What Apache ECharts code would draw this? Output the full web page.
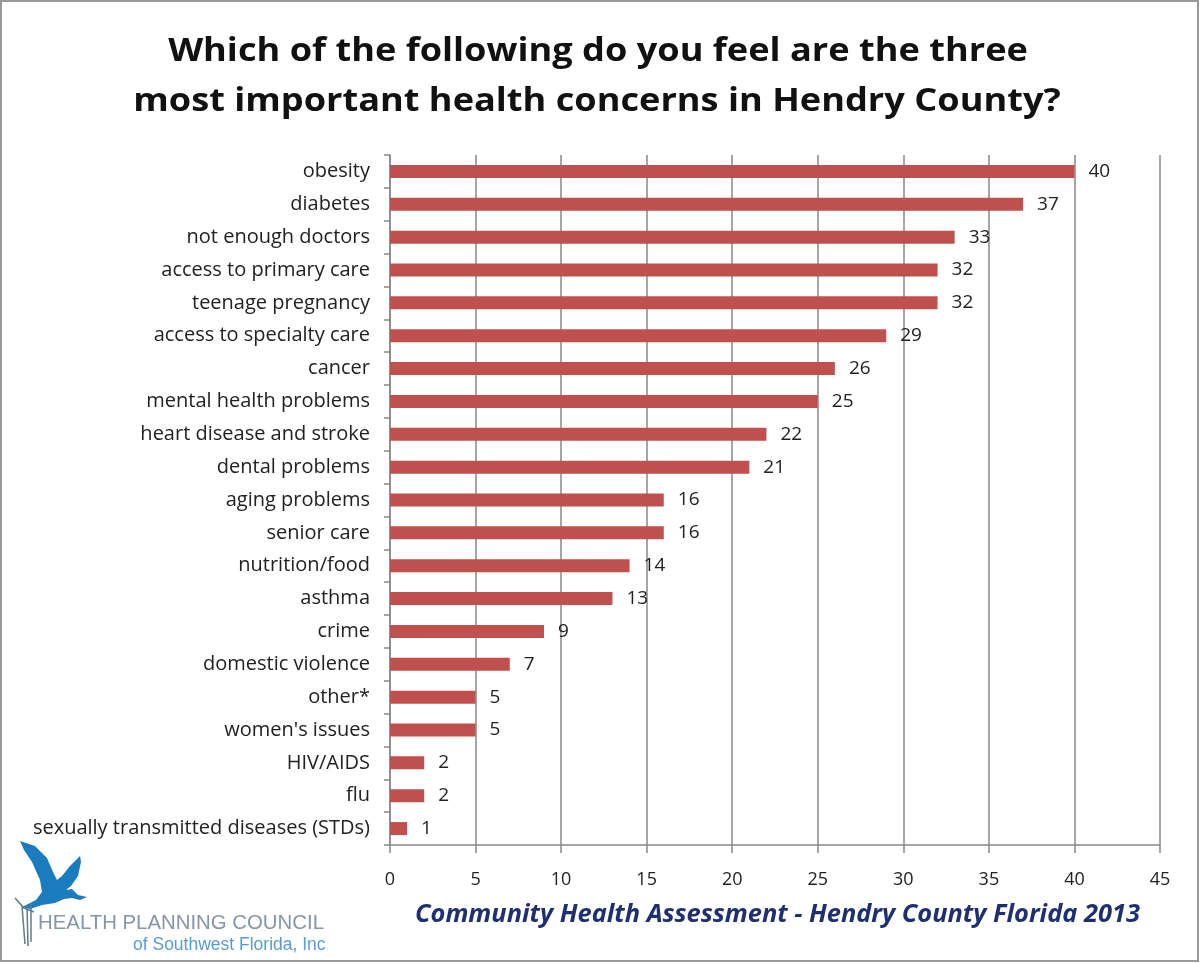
<!DOCTYPE html>
<html><head><meta charset="utf-8">
<script src="https://cdn.jsdelivr.net/npm/echarts@6/dist/echarts.min.js"></script>
<style>html,body{margin:0;padding:0;background:#fff}#c{width:1200px;height:963px}</style>
</head><body><div id="c"></div>
<script>
const categories = ["obesity","diabetes","not enough doctors","access to primary care","teenage pregnancy","access to specialty care","cancer","mental health problems","heart disease and stroke","dental problems","aging problems","senior care","nutrition/food","asthma","crime","domestic violence","other*","women's issues","HIV/AIDS","flu","sexually transmitted diseases (STDs)"];
const values = [40,37,33,32,32,29,26,25,22,21,16,16,14,13,9,7,5,5,2,2,1];
const xTicks = [0,5,10,15,20,25,30,35,40,45];
const titleLines = ["Which of the following do you feel are the three","most important health concerns in Hendry County?"];
const footer = "Community Health Assessment - Hendry County Florida 2013";
const logoLines = ["HEALTH PLANNING COUNCIL","of Southwest Florida, Inc"];

const chart = echarts.init(document.getElementById('c'));
const titleFont = 'bold 32px "Open Sans"';
chart.setOption({
  backgroundColor:'#fff',
  animation:false,
  grid:{left:390, right:40, top:155, bottom:118},
  xAxis:{type:'value', min:0, max:45, interval:5,
    axisLine:{show:true, lineStyle:{color:'#888', width:1.5}},
    axisTick:{show:true, length:8, lineStyle:{color:'#888', width:1.5}},
    axisLabel:{margin:26, fontFamily:'Open Sans', fontSize:18, color:'#222', formatter:v=>xTicks.includes(v)?String(v):''},
    splitLine:{show:true, lineStyle:{color:'#888', width:1.5}}},
  yAxis:{type:'category', data:categories, inverse:true,
    axisLine:{show:true, lineStyle:{color:'#888', width:1.5}},
    axisTick:{show:true, length:6, lineStyle:{color:'#888', width:1.5}},
    axisLabel:{margin:20, fontFamily:'Open Sans', fontSize:20, color:'#222'}},
  series:[{type:'bar', data:values, barWidth:13,
    itemStyle:{color:'#c0504d'},
    label:{show:true, position:'right', distance:14, fontFamily:'Open Sans', fontSize:19, color:'#222'}}],
  graphic:[
    {type:'rect', shape:{x:1, y:1, width:1197, height:960}, style:{fill:'none', stroke:'#999', lineWidth:2}, silent:true},
    {type:'text', x:598, y:52, scaleX:1.13, style:{text:titleLines[0], font:titleFont, fill:'#111', align:'center', verticalAlign:'middle'}},
    {type:'text', x:597, y:102, scaleX:1.13, style:{text:titleLines[1], font:titleFont, fill:'#111', align:'center', verticalAlign:'middle'}},
    {type:'text', x:415, y:915, style:{text:footer, font:'italic bold 25.4px "Open Sans"', fill:'#1f3070', verticalAlign:'middle'}},
    {type:'polygon', shape:{points:[[20,841],[35,846],[47,858],[53,872],[57,880],[62,876],[70,866],[80,856],[81,862],[78,876],[71,886],[66,890],[72,889],[78,895],[87,897],[80,900],[72,898],[64,899],[55,903],[42,905],[30,909],[22,907],[36,900],[42,892],[40,880],[32,862],[24,850]]}, style:{fill:'#1a7bbf'}},
    {type:'polyline', shape:{points:[[22,906],[25,944]]}, style:{stroke:'#5f7d8c', lineWidth:1.5, fill:'none'}},
    {type:'polyline', shape:{points:[[27,905],[28,946]]}, style:{stroke:'#5f7d8c', lineWidth:1.5, fill:'none'}},
    {type:'polyline', shape:{points:[[31,903],[31,942]]}, style:{stroke:'#5f7d8c', lineWidth:1.5, fill:'none'}},
    {type:'polyline', shape:{points:[[15,898],[24,908],[34,912]]}, style:{stroke:'#5f7d8c', lineWidth:1.5, fill:'none'}},
    {type:'text', x:38, y:923, scaleX:0.97, style:{text:logoLines[0], font:'21px "Liberation Sans"', fill:'#8796a5', verticalAlign:'middle'}},
    {type:'text', x:133, y:945, style:{text:logoLines[1], font:'17.5px "Liberation Sans"', fill:'#5b9bd5', verticalAlign:'middle'}}
  ]
});
</script></body></html>
